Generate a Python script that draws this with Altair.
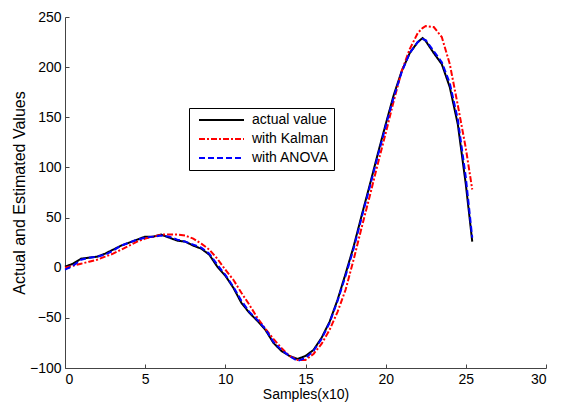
import altair as alt
import pandas as pd

# Samples (x10)
x_vals = [0, 0.5, 1, 1.5, 2, 2.5, 3, 3.5, 4, 4.5, 5, 5.5, 6, 6.5, 7, 7.5, 8, 8.5,
          9, 9.5, 10, 10.5, 11, 11.5, 12, 12.5, 13, 13.5, 14, 14.5, 15, 15.5, 16,
          16.5, 17, 17.5, 18, 18.5, 19, 19.5, 20, 20.5, 21, 21.5, 22, 22.3, 22.5,
          23, 23.5, 24, 24.5, 25, 25.4]

actual_value = [1, 4, 9, 10, 11, 14, 18, 22, 25, 28, 31, 31, 33, 30, 27, 26, 22, 19,
                13, 1, -8, -20, -35, -45, -53, -62, -75, -83, -88, -91, -88, -82, -70,
                -54, -32, -6, 21, 52, 82, 113, 143, 172, 196, 214, 225, 229, 226,
                214, 203, 180, 143, 83, 26]

with_kalman = [0, 2, 4, 6, 8, 11, 14, 18, 22, 26, 29, 31, 33, 33, 33, 32, 29, 24,
               18, 9, -2, -12, -25, -37, -50, -61, -71, -80, -88, -92, -92, -86, -76,
               -62, -44, -22, 8, 40, 71, 103, 134, 166, 196, 218, 234, 239, 241,
               240, 230, 203, 162, 119, 78]

with_anova = [-2, 2, 8, 10, 11, 13, 17, 22, 25, 28, 30, 31, 32, 31, 28, 26, 23, 20,
              14, 3, -7, -19, -33, -44, -52, -61, -74, -82, -88, -93, -90, -83, -71,
              -55, -33, -8, 19, 50, 80, 111, 141, 170, 195, 214, 225, 228, 227,
              216, 205, 184, 148, 90, 30]

series_names = ["actual value", "with Kalman", "with ANOVA"]
series_colors = ["#000000", "#ff0000", "#0000ff"]
series_dashes = [[1, 0], [6, 2, 2, 2], [6, 3]]

x_ticks = [0, 5, 10, 15, 20, 25, 30]
y_ticks = [-100, -50, 0, 50, 100, 150, 200, 250]

rows = []
for name, ys in zip(series_names, [actual_value, with_kalman, with_anova]):
    for i, (xv, yv) in enumerate(zip(x_vals, ys)):
        rows.append({"series": name, "x": xv, "y": yv, "i": i})
df = pd.DataFrame(rows)

font = "Liberation Sans"

legend = alt.Legend(
    title=None,
    orient="none",
    legendX=124,
    legendY=91,
    symbolType="stroke",
    symbolSize=2025,
    symbolStrokeWidth=2,
    symbolOffset=4,
    labelOffset=7,
    labelFont=font,
    labelFontSize=14,
    labelColor="#000000",
    clipHeight=14,
    padding=5,
    rowPadding=5,
    strokeColor="#000000",
    fillColor="#ffffff",
)

color = alt.Color("series:N",
                  scale=alt.Scale(domain=series_names, range=series_colors),
                  legend=legend)
dash = alt.StrokeDash("series:N",
                      scale=alt.Scale(domain=series_names, range=series_dashes),
                      legend=legend)

x_enc = alt.X("x:Q",
              scale=alt.Scale(domain=[0, 30], nice=False, zero=False),
              axis=alt.Axis(values=x_ticks, title="Samples(x10)", format="d",
                            tickSize={"expr": "-4"}, labelPadding=8,
                            titlePadding=1))
y_enc = alt.Y("y:Q",
              scale=alt.Scale(domain=[-100, 250], nice=False, zero=False),
              axis=alt.Axis(values=y_ticks, title="Actual and Estimated Values",
                            format="d", tickSize={"expr": "-4"}, labelPadding=8,
                            titlePadding=2, titleFontSize=16))

base = alt.Chart(df).mark_line(strokeWidth=2).encode(
    x=x_enc, y=y_enc, color=color, strokeDash=dash, order="i:Q"
)

layers = [base.transform_filter(alt.datum.series == n) for n in series_names]

chart = alt.layer(*layers).properties(
    width=481,
    height=351,
    autosize=alt.AutoSizeParams(type="none"),
    padding={"left": 57, "top": 9, "right": 8, "bottom": 34},
    background="#ffffff",
).configure_view(
    stroke="transparent"
).configure_axis(
    grid=False,
    domainColor="#444444",
    domainWidth=1,
    tickColor="#444444",
    tickWidth=1,
    labelFont=font,
    labelFontSize=14,
    labelColor="#000000",
    titleFont=font,
    titleFontSize=14,
    titleFontWeight="normal",
    titleColor="#000000",
)

chart.save("out.html", embed_options={"renderer": "svg", "actions": False})
